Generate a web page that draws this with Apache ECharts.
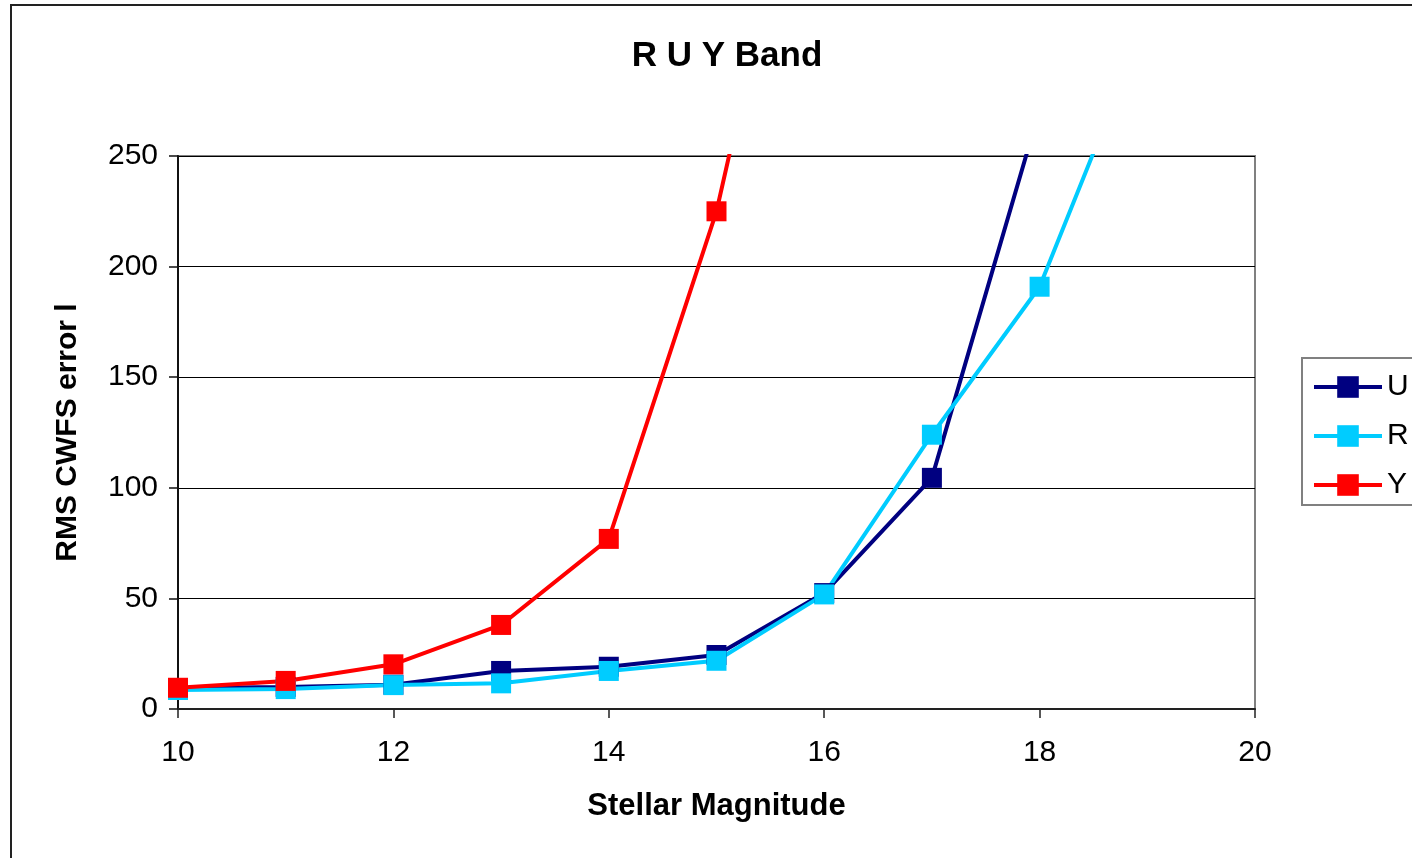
<!DOCTYPE html>
<html>
<head>
<meta charset="utf-8">
<script src="https://cdn.jsdelivr.net/npm/echarts@6/dist/echarts.min.js"></script>
<style>
html,body{margin:0;padding:0;background:#fff;}
#chart{width:1412px;height:858px;}
</style>
</head>
<body>
<div id="chart"></div>
<script>
var magnitudes = [10, 11, 12, 13, 14, 15, 16, 17, 18, 19];
var seriesU = [9.5, 10, 11, 17.2, 19.1, 24.4, 52.4, 104.5, 271];
var seriesR = [8.6, 9, 10.8, 11.6, 17.2, 21.8, 51.8, 124, 190.9, 312];
var seriesY = [9.6, 12.7, 20.2, 38, 76.9, 225, 440];
var xTicks = [10, 12, 14, 16, 18, 20];
var yTicks = [0, 50, 100, 150, 200, 250];

function pairs(vals) {
  return vals.map(function (v, i) { return [magnitudes[i], v]; });
}

var FONT = '"Liberation Sans", Arial, sans-serif';
var chart = echarts.init(document.getElementById('chart'), null, {renderer: 'canvas'});

function mk(name, color, vals) {
  return {
    name: name,
    type: 'line',
    data: pairs(vals),
    symbol: 'rect',
    symbolSize: 20,
    clip: true,
    lineStyle: {color: color, width: 4},
    itemStyle: {color: color},
    emphasis: {disabled: true},
    animation: false
  };
}

chart.setOption({
  backgroundColor: '#fff',
  animation: false,
  title: {
    text: 'R U Y Band',
    left: 722,
    top: 34,
    textAlign: 'center',
    textStyle: {fontFamily: FONT, fontWeight: 'bold', fontSize: 35, color: '#000'}
  },
  graphic: [{
    type: 'rect',
    shape: {x: 11, y: 5, width: 1600, height: 1000},
    style: {fill: 'none', stroke: '#222', lineWidth: 2},
    silent: true,
    z: -1
  }],
  legend: {
    orient: 'vertical',
    left: 1302,
    top: 358,
    padding: [14, 60, 5, 10],
    itemWidth: 68,
    itemHeight: 27,
    itemGap: 19,
    borderColor: '#808080',
    borderWidth: 2,
    backgroundColor: '#fff',
    selectedMode: false,
    lineStyle: {width: 4},
    textStyle: {fontFamily: FONT, fontSize: 30, color: '#000', lineHeight: 30, padding: [0, 0, 0, 0]},
    data: ['U', 'R', 'Y']
  },
  grid: {
    left: 178, right: 157, top: 156, bottom: 149,
    show: true, borderColor: '#808080', borderWidth: 2, backgroundColor: '#fff'
  },
  xAxis: {
    type: 'value',
    min: xTicks[0],
    max: xTicks[xTicks.length - 1],
    interval: xTicks[1] - xTicks[0],
    name: 'Stellar Magnitude',
    nameLocation: 'middle',
    nameGap: 82,
    nameTextStyle: {fontFamily: FONT, fontWeight: 'bold', fontSize: 31, color: '#000'},
    axisLine: {show: true, onZero: false, lineStyle: {color: '#222', width: 2}},
    axisTick: {show: true, inside: false, length: 9, lineStyle: {color: '#222', width: 1.5}},
    axisLabel: {fontFamily: FONT, fontSize: 30, color: '#000', margin: 29},
    splitLine: {show: false}
  },
  yAxis: {
    type: 'value',
    min: yTicks[0],
    max: yTicks[yTicks.length - 1],
    interval: yTicks[1] - yTicks[0],
    name: 'RMS CWFS error l',
    nameLocation: 'middle',
    nameGap: 95,
    nameTextStyle: {fontFamily: FONT, fontWeight: 'bold', fontSize: 30, color: '#000'},
    axisLine: {show: true, lineStyle: {color: '#111', width: 2}},
    axisTick: {show: true, inside: false, length: 9, lineStyle: {color: '#111', width: 1.5}},
    axisLabel: {fontFamily: FONT, fontSize: 30, color: '#000', margin: 20},
    splitLine: {show: true, lineStyle: {color: '#000', width: 1.2}}
  },
  series: [
    mk('U', '#000080', seriesU),
    mk('R', '#00CCFF', seriesR),
    mk('Y', '#FF0000', seriesY)
  ]
});
</script>
</body>
</html>
